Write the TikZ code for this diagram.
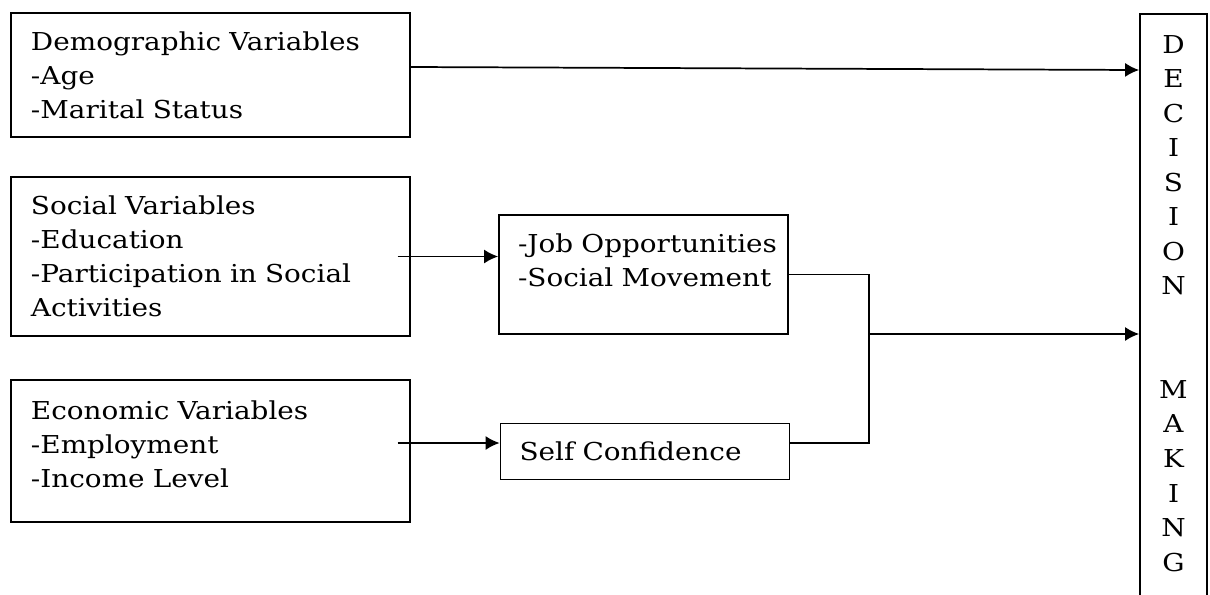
\documentclass[tikz,border=0pt]{standalone}
\usepackage{fontspec}
\setmainfont{DejaVu Serif}[FakeStretch=1.13]
\usetikzlibrary{arrows.meta}
\newcommand{\diagfont}{\fontsize{18.5pt}{25.5pt}\selectfont}

\begin{document}
\begin{tikzpicture}[x=0.75pt, y=-0.75pt, line width=1.3pt, >={Latex[length=10.5pt,width=10.5pt]},
	varbox/.style={draw, align=left, font=\diagfont, inner xsep=15pt, inner ysep=0pt, text width=269.25pt, minimum width=299.25pt},
	midbox/.style={draw, align=left, font=\diagfont, inner xsep=14pt, inner ysep=0pt, text width=188.25pt, minimum width=216.75pt},
	dmbox/.style={draw, align=center, font=\fontsize{18.5pt}{25.9pt}\selectfont, anchor=north, inner ysep=16pt, text depth=60pt, minimum width=50.25pt}]
	\useasboundingbox (0,0) rectangle (1210,594);
	\clip (0,0) rectangle (1210,594);
	% the three groups of variables
	\node [varbox, minimum height=93pt] (demo) at (210.5,75) {Demographic Variables\\-Age\\-Marital Status};
	\node [varbox, minimum height=119.25pt] (social) at (210.5,256.5) {Social Variables\\-Education\\-Participation in Social\\Activities};
	\node [varbox, minimum height=106.5pt, text depth=61pt] (econ) at (210.5,451) {Economic Variables\\-Employment\\-Income Level};
	% middle column
	\node [midbox, minimum height=89.25pt, text depth=46.7pt] (job) at (643.5,274.5) {\mbox{-Job Opportunities}\\\mbox{-Social Movement}};
	\node [midbox, minimum height=42pt] (self) at (645,451.5) {Self Confidence};
	% the tall box on the right, open at the bottom
	\node [dmbox] (dm) at (1173.5,13) {D\\E\\C\\I\\S\\I\\O\\N\\[51.75pt]M\\A\\K\\I\\N\\G};
	\coordinate (ecout) at ([yshift=6pt]econ.east);
	\coordinate (merge) at (869,334);
	\draw [->] ([yshift=6pt]demo.east) -- ([yshift=-42.75pt]dm.north west);
	\draw [->] ([xshift=-10pt]social.east) -- (social.east -| job.west);
	\draw [->] ([xshift=-10pt]ecout) -- (ecout -| self.west);
	\draw (job.east) -| (merge);
	\draw (ecout -| self.east) -| (merge);
	\draw [->] (merge) -- (merge -| dm.west);
\end{tikzpicture}
\end{document}
